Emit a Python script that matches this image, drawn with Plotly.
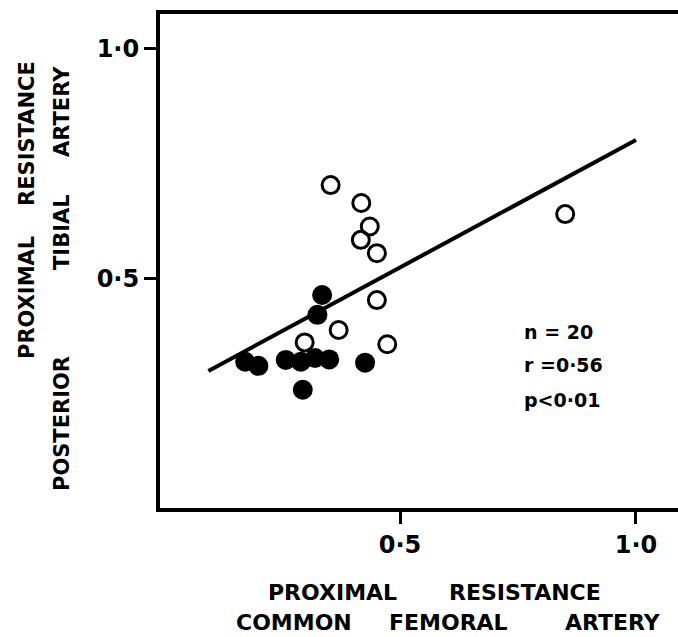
import plotly.graph_objects as go

# Data
open_x = [0.353, 0.418, 0.436, 0.417, 0.451, 0.451, 0.370, 0.298, 0.473, 0.850]
open_y = [0.704, 0.665, 0.614, 0.585, 0.556, 0.454, 0.389, 0.362, 0.358, 0.641]
filled_x = [0.335, 0.325, 0.172, 0.200, 0.258, 0.290, 0.320, 0.350, 0.426, 0.294]
filled_y = [0.465, 0.422, 0.320, 0.311, 0.324, 0.320, 0.328, 0.325, 0.318, 0.259]
line_x = [0.094, 1.0]
line_y = [0.300, 0.802]
tick_vals = [0.5, 1.0]
tick_text = ["0·5", "1·0"]
stats = ["n = 20", "r =0·56", "p<0·01"]
x_title_line1 = ["PROXIMAL", "RESISTANCE"]
x_title_line2 = ["COMMON", "FEMORAL", "ARTERY"]
y_title_col1 = ["PROXIMAL", "RESISTANCE"]
y_title_col2 = ["POSTERIOR", "TIBIAL", "ARTERY"]

FONT = "DejaVu Sans"
W, H = 678, 637
L, R, T, B = 160, 0, 14, 129
PW, PH = W - L - R, H - T - B


def px(xp, yp):
    return (xp - L) / PW, (H - B - yp) / PH


fig = go.Figure()
fig.add_trace(go.Scatter(x=line_x, y=line_y, mode="lines",
                         line=dict(color="black", width=4), hoverinfo="skip"))
fig.add_trace(go.Scatter(x=filled_x, y=filled_y, mode="markers",
                         marker=dict(symbol="circle", size=20, color="black")))
fig.add_trace(go.Scatter(x=open_x, y=open_y, mode="markers",
                         marker=dict(symbol="circle-open", size=17, color="black",
                                     line=dict(width=3, color="black"))))

axis_common = dict(showgrid=False, zeroline=False, showline=True, linecolor="black",
                   linewidth=4, ticks="outside", ticklen=12, tickwidth=3,
                   tickcolor="black", tickvals=tick_vals, ticktext=tick_text,
                   tickfont=dict(family=FONT, size=24, color="black", weight="bold"))
fig.update_xaxes(range=[-0.0085, 1.089], mirror=True, **axis_common)
fig.update_yaxes(range=[0.002, 1.076], mirror=False, **axis_common)

annotations = []
xf = dict(family=FONT, size=22, color="black", weight="bold")
yf = dict(family=FONT, size=21, color="black", weight="bold")

# x-axis title words: centre x px on each line
for word, cx in zip(x_title_line1, [332, 525]):
    ax, ay = px(cx, 592)
    annotations.append(dict(text=word, x=ax, y=ay, xref="paper", yref="paper",
                            showarrow=False, font=xf, xanchor="center", yanchor="middle"))
for word, cx in zip(x_title_line2, [294, 448, 613]):
    ax, ay = px(cx, 622)
    annotations.append(dict(text=word, x=ax, y=ay, xref="paper", yref="paper",
                            showarrow=False, font=xf, xanchor="center", yanchor="middle"))
# y-axis title words (rotated): centre y px
for word, cy in zip(y_title_col1, [298, 134]):
    ax, ay = px(27, cy)
    annotations.append(dict(text=word, x=ax, y=ay, xref="paper", yref="paper", textangle=-90,
                            showarrow=False, font=yf, xanchor="center", yanchor="middle"))
for word, cy in zip(y_title_col2, [424, 232, 112]):
    ax, ay = px(62, cy)
    annotations.append(dict(text=word, x=ax, y=ay, xref="paper", yref="paper", textangle=-90,
                            showarrow=False, font=yf, xanchor="center", yanchor="middle"))

sf = dict(family=FONT, size=19, color="black", weight="bold")
for txt, cy in zip(stats, [332, 365, 400]):
    ax, ay = px(522, cy)
    annotations.append(dict(text=txt, x=ax, y=ay, xref="paper", yref="paper",
                            showarrow=False, font=sf, xanchor="left", yanchor="middle"))

fig.update_layout(width=W, height=H, margin=dict(l=L, r=R, t=T, b=B),
                  plot_bgcolor="white", paper_bgcolor="white", showlegend=False,
                  annotations=annotations)
fig.write_html("out.html")
